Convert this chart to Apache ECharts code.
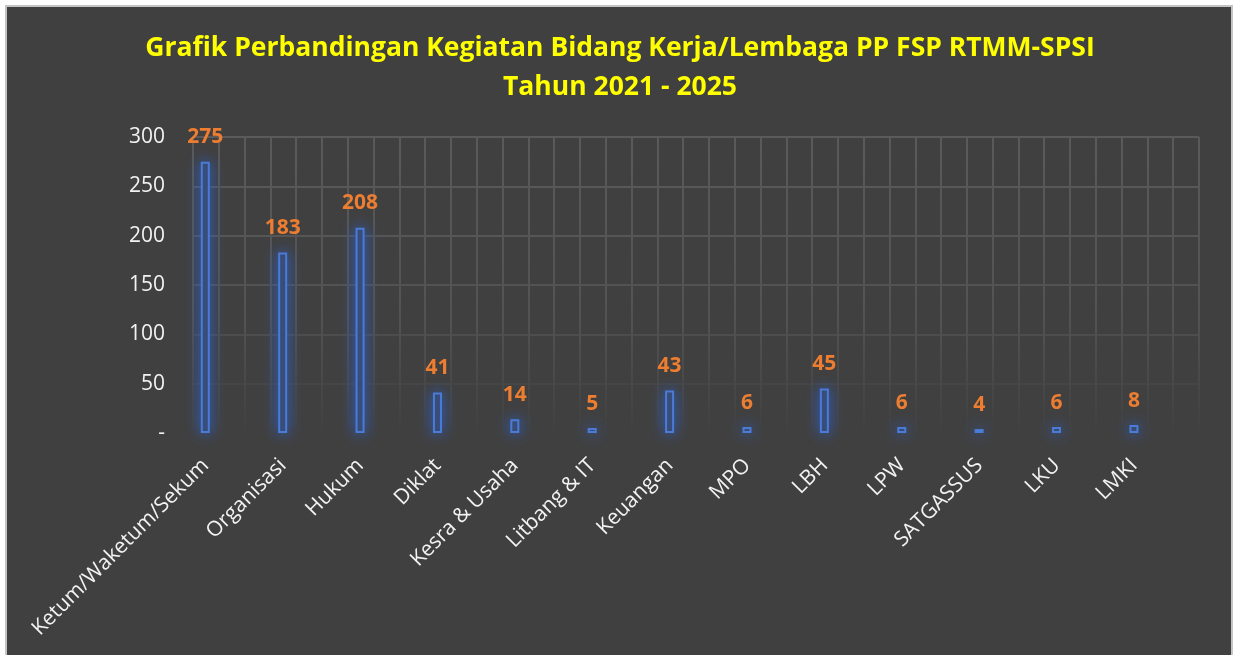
<!DOCTYPE html>
<html>
<head>
<meta charset="utf-8">
<script src="https://cdn.jsdelivr.net/npm/echarts@6/dist/echarts.min.js"></script>
<style>
  html, body { margin: 0; padding: 0; background: #fff; }
  #main { width: 1240px; height: 655px; }
</style>
</head>
<body>
<div id="main"></div>
<script>
var chartDom = document.getElementById('main');
var myChart = echarts.init(chartDom);
var option;

const categories = ['Ketum/Waketum/Sekum', 'Organisasi', 'Hukum', 'Diklat', 'Kesra & Usaha',
  'Litbang & IT', 'Keuangan', 'MPO', 'LBH', 'LPW', 'SATGASSUS', 'LKU', 'LMKI'];
const values = [275, 183, 208, 41, 14, 5, 43, 6, 45, 6, 4, 6, 8];
const yTicks = [0, 50, 100, 150, 200, 250, 300];

// horizontal grid lines fade out towards the bottom
const hLineColors = ['rgba(0,0,0,0)', '#464646', '#4d4d4d', '#535353', '#565656', '#585858', '#5a5a5a'];

const plotTop = 137, plotHeight = 296, plotWidth = 1006, plotLeft = 193;
const barShift = 26.4; // bars sit left of category centre (clustered slot)

option = {
  backgroundColor: '#ffffff',
  animation: false,
  graphic: [{
    type: 'rect',
    z: -10,
    shape: { x: 6, y: 6, width: 1226, height: 652 },
    style: { fill: '#404040', stroke: '#c4c4c4', lineWidth: 2 }
  }],
  title: {
    text: 'Grafik Perbandingan Kegiatan Bidang Kerja/Lembaga PP FSP RTMM-SPSI\nTahun 2021 - 2025',
    left: 'center',
    top: 24,
    textStyle: {
      color: '#ffff00',
      fontFamily: 'Open Sans',
      fontWeight: 'bold',
      fontSize: 26.5,
      lineHeight: 39
    }
  },
  grid: [
    { left: plotLeft, top: plotTop, width: plotWidth, height: plotHeight },
    { left: plotLeft - barShift, top: plotTop, width: plotWidth, height: plotHeight }
  ],
  xAxis: [
    {
      // vertical grid lines
      type: 'value', gridIndex: 0, min: 0, max: 39, interval: 1,
      axisLabel: { show: false }, axisTick: { show: false }, axisLine: { show: false },
      splitLine: {
        show: true,
        lineStyle: {
          width: 2,
          color: new echarts.graphic.LinearGradient(0, 0, 0, 1, [
            { offset: 0, color: '#5a5a5a' },
            { offset: 0.6, color: '#535353' },
            { offset: 1, color: '#404040' }
          ])
        }
      }
    },
    {
      // category labels
      type: 'category', gridIndex: 0, data: categories, position: 'bottom',
      axisLine: { show: false }, axisTick: { show: false }, splitLine: { show: false },
      axisLabel: {
        interval: 0, rotate: 45, margin: 3,
        padding: [0, 37, 0, 0],
        color: '#f2f2f2', fontFamily: 'Open Sans', fontSize: 21
      }
    },
    {
      type: 'category', gridIndex: 1, data: categories, show: false
    }
  ],
  yAxis: [
    {
      type: 'value', gridIndex: 0, min: 0, max: 300, interval: 50,
      axisLine: { show: false }, axisTick: { show: false },
      axisLabel: {
        margin: 28, color: '#f2f2f2', fontFamily: 'Open Sans', fontSize: 21,
        formatter: v => (v === 0 ? '-' : String(v))
      },
      splitLine: { show: true, lineStyle: { width: 2, color: hLineColors } }
    },
    {
      type: 'value', gridIndex: 1, min: 0, max: 300, interval: 50, show: false,
      splitLine: { show: false }
    }
  ],
  series: [{
    type: 'bar',
    xAxisIndex: 2,
    yAxisIndex: 1,
    data: values,
    barWidth: 9,
    itemStyle: {
      color: '#3a4866',
      borderColor: '#4a7bd6',
      borderWidth: 2,
      shadowBlur: 14,
      shadowColor: 'rgba(45,95,200,1)'
    },
    label: {
      show: true,
      position: 'top',
      distance: 14,
      color: '#ed7d31',
      fontFamily: 'Open Sans',
      fontWeight: 'bold',
      fontSize: 21
    }
  }]
};

option && myChart.setOption(option);

window.onresize = function() {
  myChart.resize();
};
</script>
</body>
</html>
